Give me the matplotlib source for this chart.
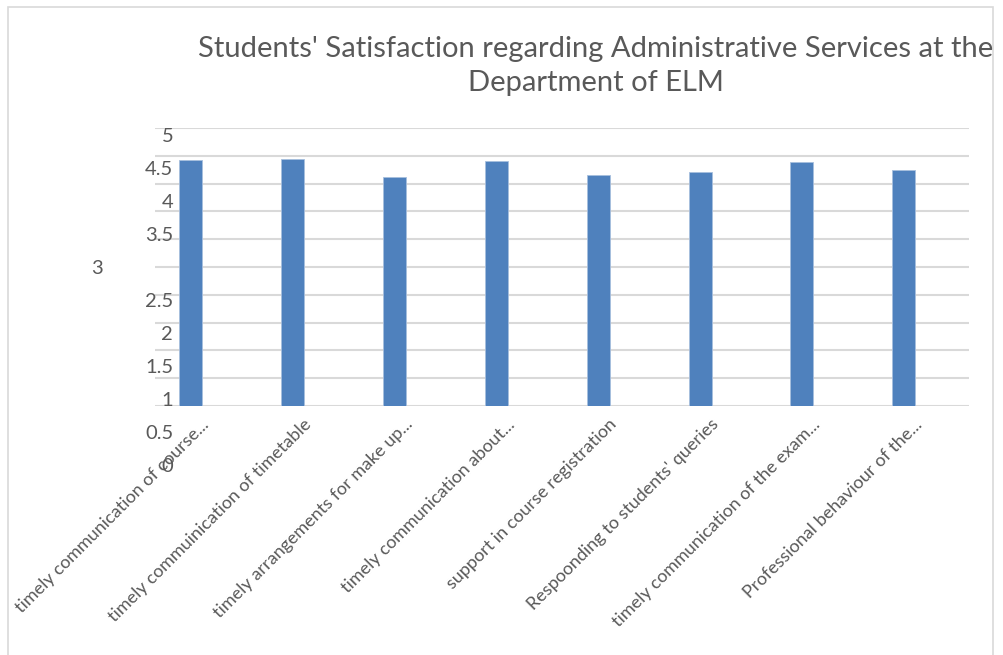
import matplotlib
matplotlib.use("Agg")
import matplotlib.pyplot as plt
import matplotlib.transforms as mtransforms
from matplotlib.patches import Rectangle

categories = [
    "timely communication of course...",
    "timely commuinication of timetable",
    "timely arrangements for make up...",
    "timely communication about...",
    "support in course registration",
    "Respoonding to students' queries",
    "timely communication of the exam...",
    "Professional behaviour of the...",
]
scores = [4.42, 4.45, 4.12, 4.40, 4.15, 4.21, 4.39, 4.24]
y_ticks = [0, 0.5, 1, 1.5, 2, 2.5, 3, 3.5, 4, 4.5, 5]
y_labels = ["0", "0.5", "1", "1.5", "2", "2.5", "3", "3.5", "4", "4.5", "5"]
title = "Students' Satisfaction regarding Administrative Services at the\nDepartment of ELM"

plt.rcParams["font.family"] = ["Lato", "DejaVu Sans"]
text_col = "#595959"
W, H = 1004, 655

fig = plt.figure(figsize=(W / 100, H / 100), dpi=100)

# light chart border
fig.patches.append(Rectangle((8.5 / W, -0.01), (993.5 - 8.5) / W, 1.01 - 6.5 / H,
                             transform=fig.transFigure, fill=False,
                             edgecolor="#D9D9D9", lw=1.2))

# main plotting area
ax = fig.add_axes([155 / W, (H - 406) / H, (969 - 155) / W, (406 - 128) / H])
x = list(range(len(categories)))
ax.bar(x, scores, width=0.226, color="#4F81BD", edgecolor="#A7BFDE", lw=0.6, zorder=3)
ax.set_xlim(-0.351, 7.64)
ax.set_ylim(0, 5)
ax.set_yticks(y_ticks)
ax.yaxis.grid(True, color="#D9D9D9", lw=1.5, zorder=0)
ax.tick_params(axis="y", length=0, labelleft=False)
for s in ax.spines.values():
    s.set_visible(False)

ax.set_xticks(x)
ax.set_xticklabels(categories, rotation=45, ha="right", va="center",
                   rotation_mode="anchor", fontsize=13, color=text_col)
ax.tick_params(axis="x", length=0, pad=0)
shift = mtransforms.ScaledTranslation(16 / 100, -16 / 100, fig.dpi_scale_trans)
for lab in ax.get_xticklabels():
    lab.set_transform(lab.get_transform() + shift)

# value axis labels (drawn on their own scale, as in the original)
lax = fig.add_axes([176 / W, (H - 465) / H, 0.0001, (465 - 135) / H])
lax.set_ylim(0, 5)
lax.set_yticks(y_ticks)
lax.set_yticklabels(y_labels, fontsize=14.5, color=text_col)
lax.tick_params(axis="y", length=0, pad=2)
lax.set_xticks([])
for s in lax.spines.values():
    s.set_visible(False)
lax.patch.set_visible(False)
three = lax.get_yticklabels()[6]
three.set_transform(three.get_transform() + mtransforms.ScaledTranslation(-70 / 100, 0, fig.dpi_scale_trans))

fig.text(596 / W, 1 - 36 / H, title, ha="center", va="top", fontsize=21,
         color=text_col, linespacing=1.38)

fig.savefig("out.png", dpi=100)
